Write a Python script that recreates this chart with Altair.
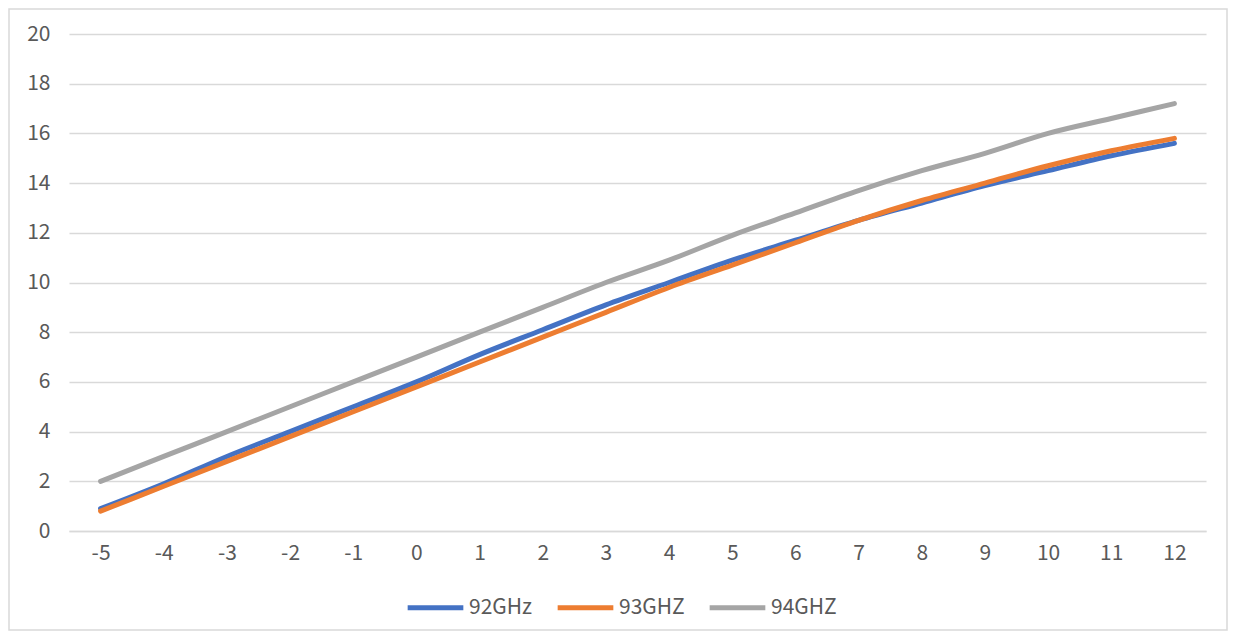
import altair as alt
import pandas as pd

x_vals = [-5, -4, -3, -2, -1, 0, 1, 2, 3, 4, 5, 6, 7, 8, 9, 10, 11, 12]
s92 = [0.9, 1.9, 3.0, 4.0, 5.0, 6.0, 7.1, 8.1, 9.1, 10.0, 10.9, 11.7, 12.5, 13.2, 13.9, 14.5, 15.1, 15.6]
s93 = [0.8, 1.8, 2.8, 3.8, 4.8, 5.8, 6.8, 7.8, 8.8, 9.8, 10.7, 11.6, 12.5, 13.3, 14.0, 14.7, 15.3, 15.8]
s94 = [2.0, 3.0, 4.0, 5.0, 6.0, 7.0, 8.0, 9.0, 10.0, 10.9, 11.9, 12.8, 13.7, 14.5, 15.2, 16.0, 16.6, 17.2]
series_names = ["92GHz", "93GHZ", "94GHZ"]
colors = ["#4472C4", "#ED7D31", "#A5A5A5"]

rows = []
for name, vals in zip(series_names, [s92, s93, s94]):
    for xv, yv in zip(x_vals, vals):
        rows.append({"x": xv, "y": yv, "series": name})
df = pd.DataFrame(rows)

W, H = 1137, 497
FONT = "Noto Sans CJK SC"

frame = alt.Chart(pd.DataFrame({"a": [0]})).mark_rect(
    fill="transparent", stroke="#d9d9d9", strokeWidth=1.5, clip=False
).encode(
    x=alt.value(-60), x2=alt.value(W + 21),
    y=alt.value(-25), y2=alt.value(H + 99),
)

lines = alt.Chart(df).mark_line(
    strokeWidth=5, strokeCap="round", strokeJoin="round", interpolate="monotone"
).encode(
    x=alt.X("x:O", sort=x_vals, title=None,
            scale=alt.Scale(paddingOuter=0.5, paddingInner=0),
            axis=alt.Axis(labelAngle=0, ticks=False, domainColor="#d9d9d9", domainWidth=1.5,
                          labelPadding=11, grid=False)),
    y=alt.Y("y:Q", title=None, scale=alt.Scale(domain=[0, 20], nice=False),
            axis=alt.Axis(values=list(range(0, 21, 2)), ticks=False, domain=False,
                          gridColor="#d9d9d9", gridWidth=1.5, labelPadding=19)),
    color=alt.Color("series:N", sort=series_names,
                    scale=alt.Scale(domain=series_names, range=colors),
                    legend=alt.Legend(title=None, orient="none", direction="horizontal",
                                      legendX=336, legendY=543,
                                      symbolType="stroke", symbolSize=3100,
                                      symbolStrokeWidth=5, columnPadding=14,
                                      labelOffset=3, labelFontSize=21,
                                      labelColor="#595959", labelFont=FONT)),
)

chart = alt.layer(frame, lines).properties(
    width=W, height=H,
    autosize=alt.AutoSizeParams(type="none"),
    padding={"left": 61, "top": 26, "right": 22, "bottom": 101},
).configure_view(stroke=None).configure_axis(
    labelFont=FONT, labelFontSize=21, labelColor="#595959"
)

chart.save("out.html", embed_options={"renderer": "svg", "actions": False})
